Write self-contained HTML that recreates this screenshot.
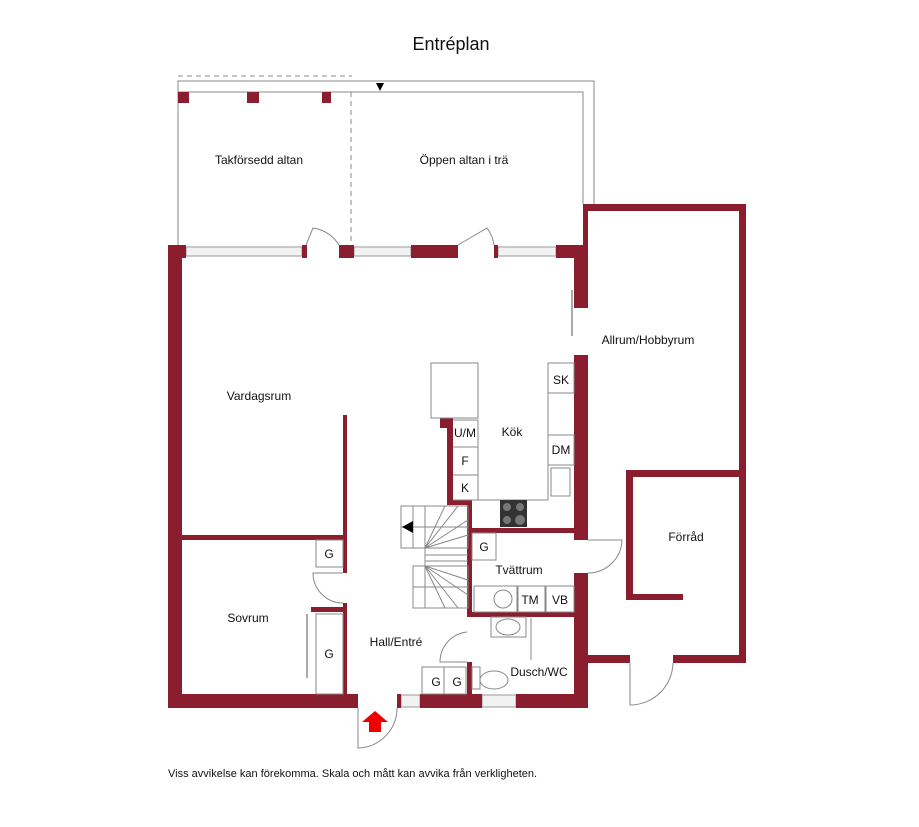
<!DOCTYPE html>
<html><head><meta charset="utf-8"><style>
html,body{margin:0;padding:0;background:#fff;}
svg{display:block;}
text{font-family:"Liberation Sans",sans-serif;fill:#111;}
</style></head><body>
<svg width="919" height="827" viewBox="0 0 919 827" xmlns="http://www.w3.org/2000/svg">
<text x="451" y="50" font-size="18" text-anchor="middle">Entréplan</text>

<g fill="none" stroke="#888" stroke-width="1">
<polyline points="178,245 178,81 594,81 594,204"/>
<polyline points="178,92 583,92 583,204"/>
<line x1="178" y1="76" x2="352" y2="76" stroke-dasharray="5,4"/>
<line x1="351" y1="92" x2="351" y2="245" stroke-dasharray="5,4"/>
</g>
<polygon points="376,83 384,83 380,91" fill="#000"/>
<g fill="#8b1e2e">
<rect x="178" y="92" width="11" height="11"/>
<rect x="247" y="92" width="12" height="11"/>
<rect x="322" y="92" width="9" height="11"/>
</g>
<text x="259" y="164" font-size="12" text-anchor="middle">Takförsedd altan</text>
<text x="464" y="164" font-size="12" text-anchor="middle">Öppen altan i trä</text>

<g fill="#f2f2f2" stroke="#999" stroke-width="1">
<rect x="186" y="247" width="116" height="9"/>
<rect x="354" y="247" width="57" height="9"/>
<rect x="498" y="247" width="58" height="9"/>
<rect x="672" y="205" width="36" height="5"/>
<rect x="234" y="695" width="59" height="12"/>
<rect x="401" y="695" width="19" height="12"/>
<rect x="482" y="695" width="34" height="12"/>
</g>

<g fill="#8b1e2e">
<rect x="168" y="245" width="18" height="13"/>
<rect x="168" y="245" width="14" height="463"/>
<rect x="302" y="245" width="5" height="13"/>
<rect x="339" y="245" width="15" height="13"/>
<rect x="411" y="245" width="47" height="13"/>
<rect x="494" y="245" width="4" height="13"/>
<rect x="556" y="245" width="32" height="13"/>
<rect x="574" y="245" width="14" height="63"/>
<rect x="583" y="204" width="5" height="54"/>
<rect x="583" y="204" width="163" height="7"/>
<rect x="739" y="204" width="7" height="459"/>
<rect x="574" y="355" width="14" height="185"/>
<rect x="574" y="573" width="14" height="135"/>
<rect x="168" y="694" width="190" height="14"/>
<rect x="397" y="694" width="4" height="14"/>
<rect x="420" y="694" width="62" height="14"/>
<rect x="516" y="694" width="72" height="14"/>
<rect x="588" y="655" width="42" height="8"/>
<rect x="673" y="655" width="73" height="8"/>
<rect x="626" y="470" width="120" height="7"/>
<rect x="626" y="470" width="7" height="130"/>
<rect x="626" y="594" width="57" height="6"/>
<rect x="182" y="535" width="165" height="5"/>
<rect x="343" y="415" width="4" height="158"/>
<rect x="343" y="603" width="4" height="91"/>
<rect x="311" y="607" width="36" height="5"/>
<rect x="440" y="418" width="13" height="10"/>
<rect x="447" y="418" width="6" height="87"/>
<rect x="447" y="500" width="25" height="5"/>
<rect x="467" y="500" width="5" height="117"/>
<rect x="467" y="528" width="121" height="5"/>
<rect x="467" y="612" width="121" height="5"/>
<rect x="467" y="662" width="5" height="33"/>
</g>

<g fill="none" stroke="#888" stroke-width="1">
<rect x="431" y="363" width="47" height="55"/>
<polyline points="453,420 478,420 478,500 453,500"/>
<line x1="453" y1="447" x2="478" y2="447"/><line x1="453" y1="475" x2="478" y2="475"/>
<polyline points="548,363 548,500 472,500"/>
<rect x="548" y="363" width="26" height="30"/>
<rect x="548" y="435" width="26" height="30"/>
<rect x="551" y="468" width="19" height="28"/>
<rect x="316" y="540" width="27" height="27"/>
<rect x="472" y="533" width="24" height="27"/>
<rect x="474" y="586" width="44" height="26"/>
<rect x="517" y="586" width="28" height="26"/>
<rect x="546" y="586" width="28" height="26"/>
<circle cx="503" cy="599" r="9"/>
<rect x="491" y="617" width="35" height="20"/>
<ellipse cx="508" cy="627" rx="12" ry="8"/>
<rect x="422" y="667" width="22" height="27"/><rect x="444" y="667" width="22" height="27"/>
<rect x="472" y="667" width="8" height="22"/>
<ellipse cx="494" cy="680" rx="14" ry="9"/>
<line x1="531" y1="618" x2="531" y2="660"/>
<rect x="316" y="614" width="27" height="80"/>
<line x1="307" y1="614" x2="307" y2="678" stroke="#aaa" stroke-width="2"/>
<line x1="572" y1="290" x2="572" y2="336" stroke="#aaa" stroke-width="2"/>
<path d="M306,245 L313,228 A36,36 0 0 1 339,245"/>
<path d="M458,245 L487,228 A36,36 0 0 1 494,245"/>
<path d="M343,573 L313,573 A30,30 0 0 0 343,603"/>
<path d="M588,540 L622,540 A34,34 0 0 1 588,573"/>
<path d="M630,663 L630,705 A43,43 0 0 0 673,663"/>
<path d="M358,708 L358,748 A40,40 0 0 0 397,708"/>
<path d="M467,632 A30,30 0 0 0 440,662 L467,662"/>
<rect x="401" y="506" width="67" height="42"/>
<rect x="413" y="566" width="55" height="42"/>
<line x1="413" y1="506" x2="413" y2="548"/><line x1="425" y1="506" x2="425" y2="608"/>
<line x1="401" y1="527" x2="468" y2="527"/><line x1="425" y1="555" x2="468" y2="555"/><line x1="425" y1="561" x2="468" y2="561"/>
<line x1="413" y1="587" x2="468" y2="587"/>
<line x1="425" y1="548" x2="445" y2="506"/><line x1="425" y1="548" x2="458" y2="506"/><line x1="425" y1="548" x2="468" y2="520"/><line x1="425" y1="548" x2="468" y2="535"/>
<line x1="425" y1="566" x2="468" y2="580"/><line x1="425" y1="566" x2="468" y2="595"/><line x1="425" y1="566" x2="458" y2="608"/><line x1="425" y1="566" x2="445" y2="608"/>
</g>
<polygon points="402,527 413,521 413,533" fill="#000"/>
<rect x="500" y="500" width="27" height="27" fill="#333"/>
<circle cx="507" cy="507" r="4" fill="#777"/><circle cx="520" cy="507" r="4" fill="#777"/><circle cx="507" cy="520" r="4" fill="#777"/><circle cx="520" cy="520" r="5" fill="#777"/>
<polygon points="375,711 388,722 381,722 381,732 369,732 369,722 362,722" fill="#e00"/>

<g font-size="12">
<text x="259" y="400" text-anchor="middle">Vardagsrum</text>
<text x="648" y="344" text-anchor="middle">Allrum/Hobbyrum</text>
<text x="512" y="436" text-anchor="middle">Kök</text>
<text x="686" y="541" text-anchor="middle">Förråd</text>
<text x="519" y="574" text-anchor="middle">Tvättrum</text>
<text x="248" y="622" text-anchor="middle">Sovrum</text>
<text x="396" y="646" text-anchor="middle">Hall/Entré</text>
<text x="539" y="676" text-anchor="middle">Dusch/WC</text>
<text x="561" y="384" text-anchor="middle">SK</text>
<text x="561" y="454" text-anchor="middle">DM</text>
<text x="465" y="437" text-anchor="middle">U/M</text>
<text x="465" y="465" text-anchor="middle">F</text>
<text x="465" y="492" text-anchor="middle">K</text>
<text x="329" y="558" text-anchor="middle">G</text>
<text x="484" y="551" text-anchor="middle">G</text>
<text x="530" y="604" text-anchor="middle">TM</text>
<text x="560" y="604" text-anchor="middle">VB</text>
<text x="329" y="658" text-anchor="middle">G</text>
<text x="436" y="686" text-anchor="middle">G</text>
<text x="457" y="686" text-anchor="middle">G</text>
</g>
<text x="168" y="777" font-size="11">Viss avvikelse kan förekomma. Skala och mått kan avvika från verkligheten.</text>
</svg>
</body></html>
